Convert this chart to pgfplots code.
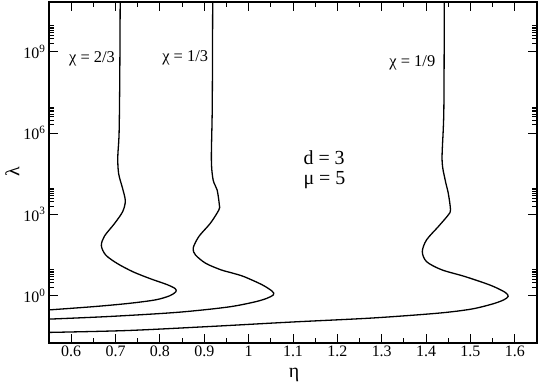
\documentclass[border=0pt]{standalone}
\usepackage{fontspec}
\setmainfont{Liberation Serif}
\usepackage{pgfplots}
\pgfplotsset{compat=1.18}

\begin{document}
\begin{tikzpicture}
\begin{axis}[
    scale only axis,
    width=488bp, height=341bp,
    xmin=0.55, xmax=1.65,
    ymode=log, ymin=0.0182, ymax=6.76e10,
    xtick={0.6,0.7,0.8,0.9,1.0,1.1,1.2,1.3,1.4,1.5,1.6},
    xticklabels={0.6,0.7,0.8,0.9,1,1.1,1.2,1.3,1.4,1.5,1.6},
    minor x tick num=1,
    ytick={1,1e3,1e6,1e9},
    yticklabels={10\textsuperscript{0},10\textsuperscript{3},10\textsuperscript{6},10\textsuperscript{9}},
    minor ytick={2,3,4,5,6,7,8,9,
                 2e3,3e3,4e3,5e3,6e3,7e3,8e3,9e3,
                 2e6,3e6,4e6,5e6,6e6,7e6,8e6,9e6,
                 2e9,3e9,4e9,5e9,6e9,7e9,8e9,9e9},
    tick align=inside,
    major tick length=9bp, minor tick length=5bp,
    every tick/.style={black, line width=1bp},
    axis line style={line width=1.2bp},
    tick label style={font=\fontsize{16}{18}\selectfont},
    xticklabel style={inner sep=1pt, yshift=-1.5bp},
    label style={font=\fontsize{20}{22}\selectfont},
    xlabel={η}, ylabel={λ},
    xlabel style={at={(axis description cs:0.502,-0.093)}, anchor=center, inner sep=0pt},
    ylabel style={at={(axis description cs:-0.075,0.503)}, anchor=center},
    clip=true,
]
% chi = 2/3
\addplot[black, line width=1.3bp, smooth] coordinates {
    (0.550,0.302) (0.650,0.398) (0.730,0.525) (0.790,0.708)
    (0.822,1.0) (0.836,1.4125) (0.834,1.862) (0.815,2.630)
    (0.780,4.169) (0.740,7.586) (0.705,15.14) (0.678,31.62)
    (0.668,70.79) (0.675,158.5) (0.697,446.7) (0.716,1259)
    (0.722,3162) (0.716,8913) (0.707,31620) (0.705,1.259e5)
    (0.708,1e6) (0.7095,1e8) (0.7105,1e11)
};
% chi = 1/3
\addplot[black, line width=1.3bp, smooth] coordinates {
    (0.550,0.138) (0.689,0.1738) (0.839,0.2455) (0.951,0.3802)
    (1.010,0.5754) (1.040,0.7943) (1.056,1.0965) (1.053,1.479)
    (1.030,2.570) (0.989,5.129) (0.963,6.918) (0.937,9.120)
    (0.903,15.85) (0.880,32.36) (0.875,57.54) (0.888,154.9)
    (0.914,478.6) (0.933,1479) (0.934,2239) (0.929,7943)
    (0.920,18620) (0.916,1.072e5) (0.918,1e7) (0.919,1e11)
};
% chi = 1/9
\addplot[black, line width=1.3bp, smooth] coordinates {
    (0.550,0.0447) (0.727,0.0525) (0.914,0.0741) (1.094,0.1072)
    (1.2775,0.1514) (1.4275,0.2291) (1.502,0.3236) (1.550,0.5012)
    (1.575,0.7079) (1.585,0.9550) (1.578,1.349) (1.545,2.455)
    (1.4875,5.129) (1.435,9.120) (1.401,18.20) (1.3915,42.66)
    (1.401,114.8) (1.4275,354.8) (1.450,955.0) (1.455,1479)
    (1.450,6026) (1.443,18620) (1.436,1.072e5) (1.440,7.08e6)
    (1.441,1e11)
};
\node[font=\fontsize{16.5}{18}\selectfont] at (axis cs:0.647,5.4e8) {χ = 2/3};
\node[font=\fontsize{16.5}{18}\selectfont] at (axis cs:0.857,6.1e8) {χ = 1/3};
\node[font=\fontsize{16.5}{18}\selectfont] at (axis cs:1.369,4.0e8) {χ = 1/9};
\node[font=\fontsize{20}{20}\selectfont, align=left] at (axis cs:1.171,4.4e4) {d = 3\\μ = 5};
\end{axis}
\pgfresetboundingbox
\path ([shift={(-49bp,-38.7bp)}]current axis.south west) rectangle ([shift={(3bp,2bp)}]current axis.north east);
\end{tikzpicture}
\end{document}
